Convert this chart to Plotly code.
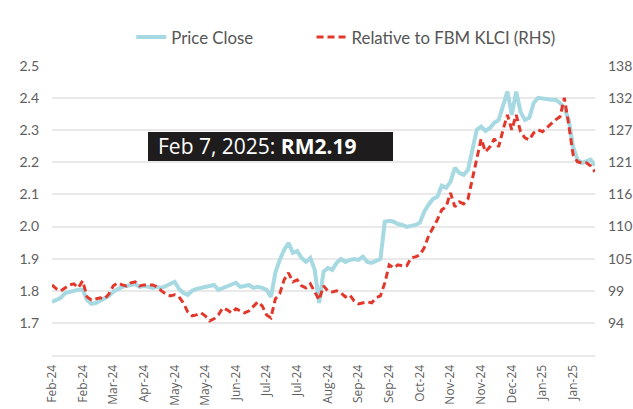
import plotly.graph_objects as go

# Share price (RM), sampled every ~2 trading days, Feb 7 2024 -> Feb 7 2025
price_close = [
    1.765, 1.772, 1.778, 1.793, 1.797, 1.800, 1.803, 1.803, 1.772, 1.759,
    1.762, 1.769, 1.775, 1.784, 1.797, 1.806, 1.812, 1.815, 1.818, 1.821,
    1.812, 1.815, 1.812, 1.809, 1.812, 1.809, 1.815, 1.821, 1.828, 1.806,
    1.793, 1.787, 1.800, 1.806, 1.809, 1.809, 1.815, 1.818, 1.803, 1.809,
    1.812, 1.818, 1.825, 1.812, 1.815, 1.818, 1.809, 1.812, 1.809, 1.803,
    1.781, 1.856, 1.896, 1.927, 1.949, 1.918, 1.924, 1.902, 1.890, 1.902,
    1.865, 1.762, 1.859, 1.871, 1.865, 1.887, 1.899, 1.890, 1.896, 1.899,
    1.896, 1.906, 1.890, 1.887, 1.893, 1.899, 2.015, 2.018, 2.015, 2.008,
    2.005, 1.999, 2.002, 2.005, 2.012, 2.046, 2.068, 2.086, 2.093, 2.127,
    2.121, 2.139, 2.183, 2.167, 2.161, 2.177, 2.239, 2.301, 2.311, 2.298,
    2.307, 2.323, 2.332, 2.379, 2.420, 2.348, 2.420, 2.357, 2.332, 2.339,
    2.385, 2.401, 2.398, 2.395, 2.395, 2.395, 2.385, 2.370, 2.332, 2.248,
    2.208, 2.198, 2.202, 2.208, 2.190,
]

# Relative to FBM KLCI (right-hand scale)
relative_klci = [
    100.51, 99.83, 99.48, 100.00, 100.51, 100.68, 100.00, 101.20, 98.45, 97.94,
    98.11, 98.28, 98.11, 98.97, 100.34, 100.85, 100.51, 100.34, 100.85, 101.03,
    100.34, 100.51, 100.51, 100.51, 100.17, 99.48, 98.97, 98.63, 98.80, 98.45,
    97.43, 95.88, 95.20, 95.37, 95.71, 95.20, 94.34, 94.69, 95.37, 96.57,
    96.23, 95.71, 96.40, 96.06, 95.71, 96.06, 96.91, 97.60, 96.91, 95.37,
    94.86, 98.11, 98.97, 101.37, 102.57, 101.03, 101.37, 100.34, 100.00, 100.68,
    99.31, 97.94, 100.34, 99.48, 99.31, 99.48, 99.14, 98.45, 98.80, 97.77,
    97.26, 97.43, 97.60, 97.43, 98.28, 98.63, 100.85, 103.94, 103.42, 103.94,
    103.77, 103.77, 105.14, 105.31, 105.65, 106.85, 108.91, 110.28, 111.65, 113.36,
    113.88, 116.27, 113.88, 114.73, 114.39, 115.25, 118.50, 121.93, 125.53, 123.30,
    124.16, 125.53, 124.16, 127.07, 129.64, 127.07, 129.64, 126.73, 125.70, 125.36,
    126.55, 127.07, 126.73, 127.41, 128.10, 128.78, 129.30, 132.55, 127.93, 122.79,
    121.59, 121.41, 121.41, 120.90, 119.87,
]

x_tick_labels = [
    "Feb-24", "Feb-24", "Mar-24", "Apr-24", "May-24", "May-24", "Jun-24",
    "Jul-24", "Jul-24", "Aug-24", "Sep-24", "Sep-24", "Oct-24", "Nov-24",
    "Nov-24", "Dec-24", "Jan-25", "Jan-25",
]
left_ticks = [1.7, 1.8, 1.9, 2.0, 2.1, 2.2, 2.3, 2.4, 2.5]
left_tick_labels = ["1.7", "1.8", "1.9", "2.0", "2.1", "2.2", "2.3", "2.4", "2.5"]
right_tick_labels = ["94", "99", "105", "110", "116", "121", "127", "132", "138"]

series_names = ["Price Close", "Relative to FBM KLCI (RHS)"]
last_date_label = "Feb 7, 2025"

# ---------------------------------------------------------------
n = len(price_close)
x = list(range(n))
label_step = 7
tickvals_x = [i * label_step for i in range(len(x_tick_labels))]

left_min, left_max = 1.6, 2.5
right_min, right_max = 88.5, 138.0
right_ticks = [94 + 5.5 * k for k in range(len(right_tick_labels))]

GRID = "#e9e9e9"
TICK_COLOR = "#5e5e5e"
CYAN = "#a6d9e1"
RED = "#e2382c"

fig = go.Figure()
fig.add_trace(go.Scatter(
    x=x, y=price_close, name=series_names[0], mode="lines",
    line=dict(color=CYAN, width=4), yaxis="y", legend="legend",
))
fig.add_trace(go.Scatter(
    x=x, y=relative_klci, name=series_names[1], mode="lines",
    line=dict(color=RED, width=3, dash="7px,4px"), yaxis="y2", legend="legend2",
))

# Black label box with the latest close
fig.add_shape(
    type="rect", xref="paper", yref="paper",
    x0=0.1768, x1=0.628, y0=0.6713, y1=0.7716,
    fillcolor="#1e1c1c", line=dict(width=0), layer="above",
)
fig.add_annotation(
    xref="paper", yref="paper", x=0.1915, y=0.7215,
    xanchor="left", yanchor="middle",
    text=f"{last_date_label}: <b>RM{price_close[-1]:.2f}</b>",
    showarrow=False, align="left",
    font=dict(family="Open Sans", size=21, color="white"),
)

legend_common = dict(
    orientation="h", xanchor="left", y=1.10, yanchor="middle",
    font=dict(family="Lato", size=16.8, color="#555555"),
    bgcolor="rgba(0,0,0,0)",
)

fig.update_layout(
    width=633, height=409,
    margin=dict(l=52, r=38, t=66, b=54),
    paper_bgcolor="white", plot_bgcolor="white",
    font=dict(family="Lato", color=TICK_COLOR),
    showlegend=True,
    legend=dict(x=0.146, **legend_common),
    legend2=dict(x=0.478, **legend_common),
    xaxis=dict(
        range=[0, n - 1], tickmode="array", tickvals=tickvals_x,
        ticktext=x_tick_labels, tickangle=-90, showgrid=False,
        zeroline=False, showline=True, linecolor=GRID, linewidth=2,
        ticks="", ticklabelstandoff=3, automargin=False,
        tickfont=dict(family="Open Sans", size=12, color=TICK_COLOR),
    ),
    yaxis=dict(
        range=[left_min, left_max], tickmode="array", tickvals=left_ticks,
        ticktext=left_tick_labels, showgrid=True, gridcolor=GRID,
        gridwidth=1.5, zeroline=False, ticks="", ticklabelstandoff=12,
        automargin=False, tickfont=dict(family="Lato", size=14, color=TICK_COLOR),
    ),
    yaxis2=dict(
        range=[right_min, right_max], overlaying="y", side="right",
        tickmode="array", tickvals=right_ticks, ticktext=right_tick_labels,
        showgrid=False, zeroline=False, ticks="", ticklabelstandoff=12,
        automargin=False, tickfont=dict(family="Lato", size=14, color=TICK_COLOR),
    ),
)

fig.write_html(
    "out.html",
    config={"displayModeBar": False},
    post_script="document.body.style.margin='0px';",
)
